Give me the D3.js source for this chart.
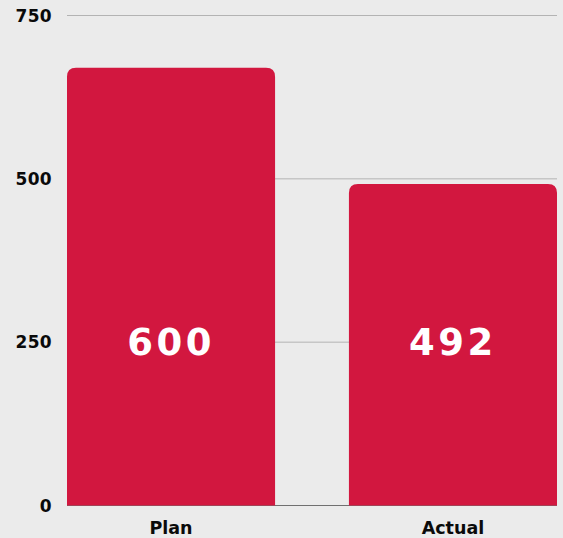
<!DOCTYPE html>
<html>
<head>
<meta charset="utf-8">
<script src="https://cdn.jsdelivr.net/npm/d3@7"></script>
<style>
  body { margin: 0; background: #ebebeb; }
  svg { display: block; }
  text { font-family: "DejaVu Sans", sans-serif; font-weight: bold; }
</style>
</head>
<body>
<div id="chart"></div>
<script>
// chart data
let categories = ["Plan", "Actual"];
let barValues = [670, 492];      // bar heights as drawn
let labelValues = ["600", "492"]; // labels printed on the bars
let yTicks = [0, 250, 500, 750];

let width = 563, height = 538;
let margin = { top: 15.5, right: 6, bottom: 32.5, left: 67 };

let svg = d3.select("#chart").append("svg")
  .attr("width", width)
  .attr("height", height);

svg.append("rect")
  .attr("width", width)
  .attr("height", height)
  .attr("fill", "#ebebeb");

let x = d3.scaleBand()
  .domain(categories)
  .range([margin.left, width - margin.right])
  .paddingInner(0.262)
  .paddingOuter(0);

let y = d3.scaleLinear()
  .domain([0, 750])
  .range([height - margin.bottom, margin.top]);

// grid lines
svg.append("g")
  .selectAll("line")
  .data(yTicks.filter(d => d > 0))
  .join("line")
  .attr("x1", margin.left)
  .attr("x2", width - margin.right)
  .attr("y1", d => y(d))
  .attr("y2", d => y(d))
  .attr("stroke", "#b3b3b3")
  .attr("stroke-width", 1);

// baseline
svg.append("line")
  .attr("x1", margin.left)
  .attr("x2", width - margin.right)
  .attr("y1", y(0))
  .attr("y2", y(0))
  .attr("stroke", "#707070")
  .attr("stroke-width", 1);

// y tick labels
svg.append("g")
  .selectAll("text")
  .data(yTicks)
  .join("text")
  .attr("x", 52)
  .attr("y", d => y(d))
  .attr("dy", "0.36em")
  .attr("text-anchor", "end")
  .attr("font-size", 17)
  .attr("letter-spacing", "0.3px")
  .attr("fill", "#0a0a0a")
  .text(d => d);

// bars with rounded top corners only
function barPath(x0, y0, w, h, r) {
  r = Math.min(r, w / 2, h);
  return "M" + x0 + "," + (y0 + h) +
    "V" + (y0 + r) +
    "Q" + x0 + "," + y0 + " " + (x0 + r) + "," + y0 +
    "H" + (x0 + w - r) +
    "Q" + (x0 + w) + "," + y0 + " " + (x0 + w) + "," + (y0 + r) +
    "V" + (y0 + h) + "Z";
}

svg.append("g")
  .selectAll("path")
  .data(categories)
  .join("path")
  .attr("d", (d, i) => barPath(x(d), y(barValues[i]), x.bandwidth(), y(0) - y(barValues[i]), 9))
  .attr("fill", "#d2173f");

// value labels
svg.append("g")
  .selectAll("text")
  .data(categories)
  .join("text")
  .attr("x", d => x(d) + x.bandwidth() / 2)
  .attr("y", y(250))
  .attr("dy", "0.36em")
  .attr("text-anchor", "middle")
  .attr("font-size", 37)
  .attr("letter-spacing", "3.5px")
  .attr("fill", "#ffffff")
  .text((d, i) => labelValues[i]);

// category labels
svg.append("g")
  .selectAll("text")
  .data(categories)
  .join("text")
  .attr("x", d => x(d) + x.bandwidth() / 2)
  .attr("y", 534)
  .attr("text-anchor", "middle")
  .attr("font-size", 17.5)
  .attr("fill", "#0a0a0a")
  .text(d => d);
</script>
</body>
</html>
